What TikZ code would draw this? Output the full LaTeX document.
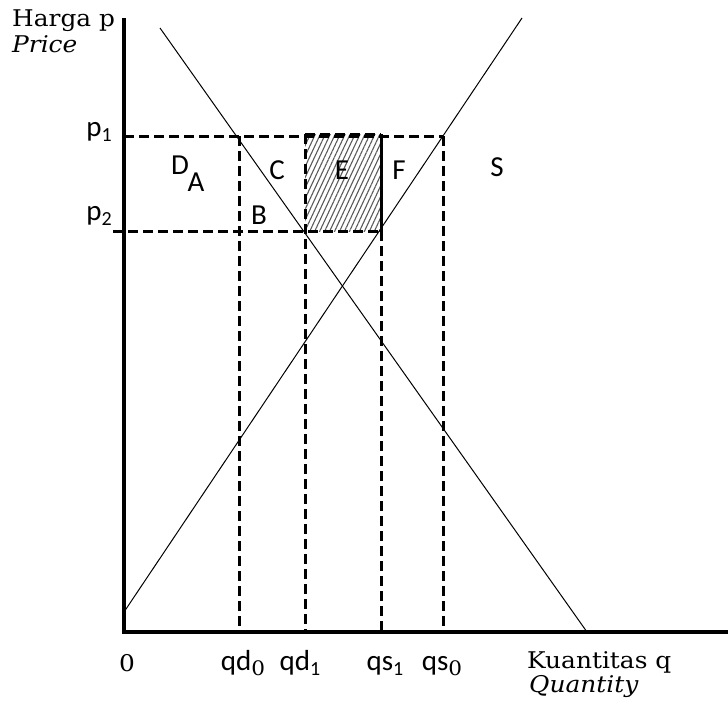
\documentclass[tikz,border=0pt]{standalone}
\usepackage{fontspec}
\setmainfont{DejaVu Serif}[FakeStretch=1.08]
\newfontfamily\calfont{Carlito}
\usetikzlibrary{patterns.meta}

% lowered index, same font unless told otherwise
\newcommand{\lowidx}[1]{\raisebox{-5.5pt}{\fontsize{20}{20}\selectfont #1}}

\begin{document}
\begin{tikzpicture}[
  x=1pt, y=-1pt,
  every node/.style={inner sep=0pt},
  axis/.style={line width=3.2pt},
  curve/.style={line width=1pt},
  guide/.style={line width=3pt, dash pattern=on 10pt off 5pt},
  area/.style={font=\calfont\fontsize{29}{31}\selectfont},
  tick/.style={font=\calfont\fontsize{29}{31}\selectfont, anchor=base},
  title/.style={font=\fontsize{23}{26}\selectfont, anchor=base west}
]
\useasboundingbox (0,0) rectangle (728,704);

% axes corners
\coordinate (O) at (124,632);
\coordinate (ytop) at (124,18);
\coordinate (xend) at (728,632);

% demand and supply end points
\coordinate (Dtop) at (160,28);
\coordinate (Dbot) at (587,632);
\coordinate (Sbot) at (124,612);
\coordinate (Stop) at (522,18);

% prices and quantities
\coordinate (p1l) at (124,136);
\coordinate (p2l) at (113,231);
\coordinate (qd0t) at (239,136);
\coordinate (qd0b) at (239,632);
\coordinate (qd1t) at (305,134);
\coordinate (qd1m) at (305,231);
\coordinate (qd1b) at (305,632);
\coordinate (qs1t) at (381,134);
\coordinate (qs1m) at (381,231);
\coordinate (qs1b) at (381,632);
\coordinate (qs0t) at (443,136);
\coordinate (qs0b) at (443,632);

% shaded area E
\fill[pattern={Lines[angle=65,distance=4.5pt,line width=1.1pt]}, pattern color=black!65]
  (qd1t) rectangle (qs1m);
\draw[line width=3pt] (qs1t) -- (qs1m);

% dashed guides
\draw[guide] (p1l) -- (qs0t);
\draw[guide] (qd1t) -- (qs1t);
\draw[guide] (p2l) -- (qs1m);
\draw[guide] (qd0t) -- (qd0b);
\draw[guide] (qd1t) -- (qd1b);
\draw[guide] (qs1m) -- (qs1b);
\draw[guide] (qs0t) -- (qs0b);

% curves
\draw[curve] (Dtop) -- (Dbot);
\draw[curve] (Sbot) -- (Stop);

% axes
\draw[axis] (ytop) -- (O) -- (xend);

% area labels
\node[area] (lD) at (180,165) {D};
\node[area] (lA) at (196,182) {A};
\node[area] (lB) at (259,215) {B};
\node[area] (lC) at (277,170) {C};
\node[area] (lE) at (342,170) {E};
\node[area] (lF) at (399,170) {F};
\node[area] (lS) at (497,167) {S};

% price labels
\node[tick, anchor=base east] (lp1) at (112,136) {p\lowidx{1}};
\node[tick, anchor=base east] (lp2) at (112,220) {p\lowidx{2}};

% quantity labels
\node[title] (lzero) at (119,671) {0};
\node[tick] (lqd0) at (243,670) {qd\lowidx{\rmfamily 0}};
\node[tick] (lqd1) at (300,670) {qd\lowidx{1}};
\node[tick] (lqs1) at (385,670) {qs\lowidx{1}};
\node[tick] (lqs0) at (442,670) {qs\lowidx{\rmfamily 0}};

% axis titles
\node[title] (lharga) at (12,27) {Harga p};
\node[title] (lprice) at (12,52) {\itshape Price};
\node[title] (lkuant) at (527,668) {Kuantitas q};
\node[title] (lquant) at (529,692) {\itshape Quantity};
\end{tikzpicture}
\end{document}
